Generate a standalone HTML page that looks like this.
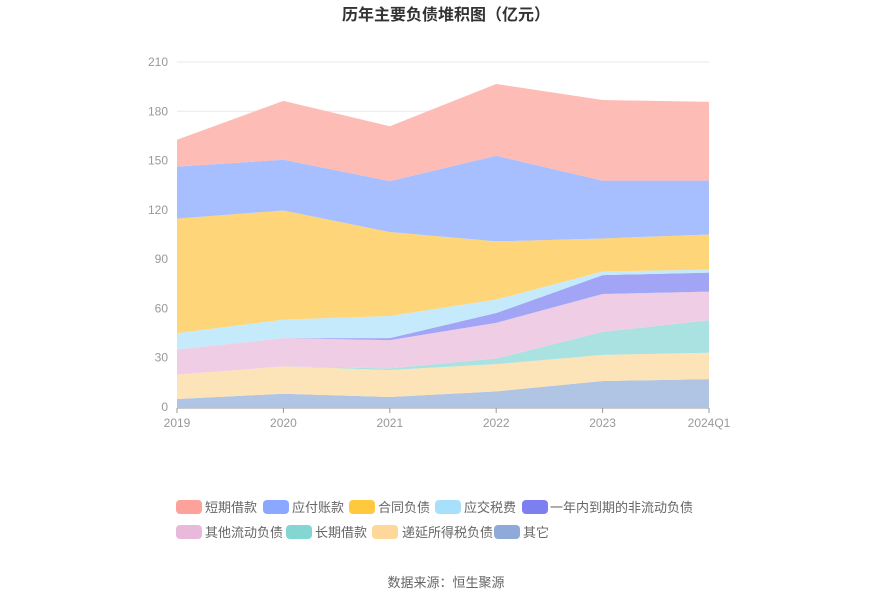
<!DOCTYPE html>
<html><head><meta charset="utf-8"><style>
body{margin:0;background:#fff;}
svg{display:block;font-family:"Liberation Sans","Noto Sans CJK SC",sans-serif;}
</style></head><body>
<svg id="chart" width="893" height="603">
<text x="446" y="20" text-anchor="middle" font-size="16" font-weight="bold" fill="#333">历年主要负债堆积图（亿元）</text>
<g id="grid"></g><g id="areas"></g><g id="axes"></g><g id="legend"></g>
<text x="446" y="587" text-anchor="middle" font-size="13" fill="#666">数据来源：恒生聚源</text>
</svg>
<script>
const categories=["2019","2020","2021","2022","2023","2024Q1"];
const seriesNames=["其它","递延所得税负债","长期借款","其他流动负债","一年内到期的非流动负债","应交税费","合同负债","应付账款","短期借款"];
const sOther=[4.9,8.1,6.1,9.5,15.8,17];
const sDeferred=[14.9,16.6,16.4,16.6,15.9,16];
const sLongLoan=[0,0,1,3.4,14,19.8];
const sOtherCur=[15.2,17.2,17.2,21.7,23.1,17.4];
const sDueYear=[0,0,1.2,6,11.5,11.6];
const sTax=[10,11.3,13.5,8.2,2.2,1.8];
const sContract=[69.7,66.4,51.1,35.4,20.1,21.4];
const sPayable=[31.6,30.9,31,52.1,35.2,32.8];
const sShortLoan=[16.4,35.8,33.4,43.7,49.1,47.9];
const yTicks=[0,30,60,90,120,150,180,210];
const seriesData=[sOther,sDeferred,sLongLoan,sOtherCur,sDueYear,sTax,sContract,sPayable,sShortLoan];
const colors=["#8eaad8","#fdd89a","#84d6d3","#e9b9dc","#7b7ff0","#a8e0fb","#ffc83d","#8aa8ff","#fca29a"];
const fills=["#b0c4e4","#fde3b8","#a9e2e0","#efcde4","#a2a5f5","#c4eafb","#fed679","#a8bfff","#fdbcb6"];
const names=["other","deferred-tax","long-term-loan","other-current","due-within-year","tax-payable","contract-liab","accounts-payable","short-term-loan"];
const NS="http://www.w3.org/2000/svg";
const x0=177,x1=709,y0=407,y1=62;
const xs=i=>x0+(x1-x0)*i/(categories.length-1);
const ys=v=>y0-(y0-y1)*v/210;
function mk(t,a,p){const e=document.createElementNS(NS,t);for(const k in a)e.setAttribute(k,a[k]);p.appendChild(e);return e;}
const grid=document.getElementById('grid'),axes=document.getElementById('axes'),areas=document.getElementById('areas'),legend=document.getElementById('legend');
yTicks.forEach(t=>{
 const l=mk('line',{x1:x0,x2:x1,y1:ys(t),y2:ys(t),stroke:'#e8e8e8'},grid);
 
 
 const tx=mk('text',{x:x0-9,y:ys(t)+4,'text-anchor':'end','font-size':12,fill:'#999'},axes);
 tx.textContent=t;
 
 
});
let base=categories.map(()=>0);
seriesData.forEach((s,si)=>{
 const top=base.map((b,i)=>b+s[i]);
 let d='';
 top.forEach((v,i)=>{d+=(i?'L':'M')+xs(i)+','+ys(v);});
 for(let i=base.length-1;i>=0;i--)d+='L'+xs(i)+','+ys(base[i]);
 const p=mk('path',{d:d+'Z',fill:fills[si],stroke:'none'},areas);
 
 
 base=top;
});
const ax=mk('line',{x1:x0,x2:x1,y1:y0+1,y2:y0+1,stroke:'#999'},axes);


categories.forEach((c,i)=>{
 const tk=mk('line',{x1:xs(i),x2:xs(i),y1:y0+1,y2:y0+6,stroke:'#999'},axes);
 
 
 const anchor=i==0?'middle':(i==categories.length-1?'middle':'middle');
 const tx=mk('text',{x:xs(i),y:y0+20,'text-anchor':anchor,'font-size':12,fill:'#999'},axes);
 tx.textContent=c;
 
 
});
const legendOrder=[8,7,6,5,4,3,2,1,0];
const pos=[[176,205,507],[263,292,507],[349,378,507],[435,464,507],[522,550,507],[176,205,532],[286,315,532],[372,402,532],[494,523,532]];
legendOrder.forEach((si,k)=>{
 const [rx,tx,cy]=pos[k];
 const g=mk('g',{},legend);
 
 
 mk('rect',{x:rx,y:cy-7,width:26,height:14,rx:4,fill:colors[si]},g);
 const t=mk('text',{x:tx,y:cy+5,'font-size':13,fill:'#666'},g);
 t.textContent=seriesNames[si];
});
</script>
</body></html>
